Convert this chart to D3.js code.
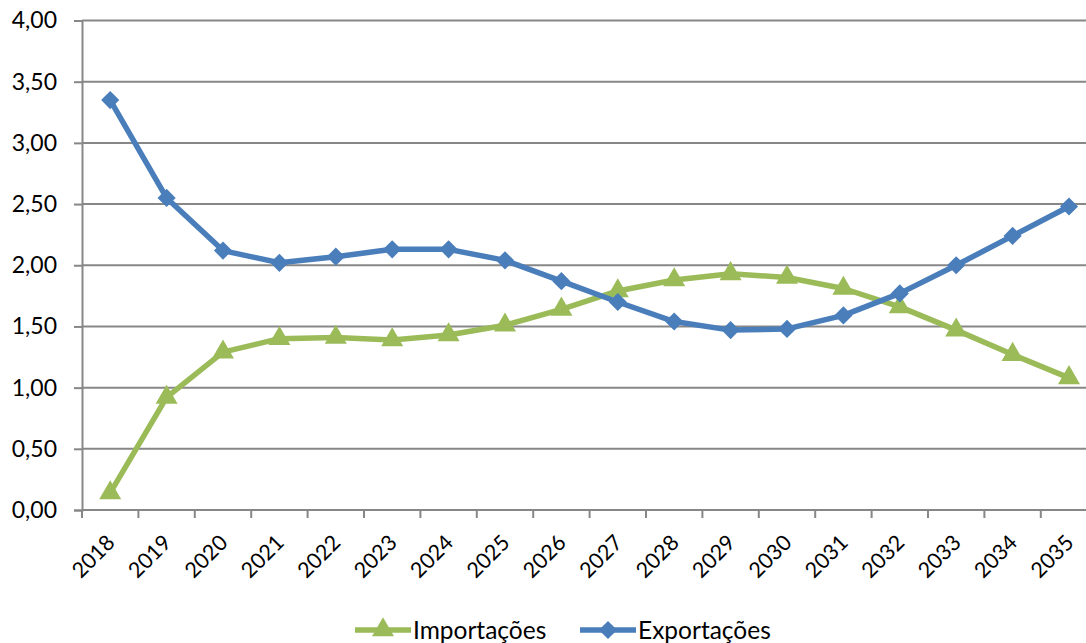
<!DOCTYPE html>
<html>
<head>
<meta charset="utf-8">
<script src="https://cdn.jsdelivr.net/npm/d3@7"></script>
<style>
  html, body { margin: 0; padding: 0; background: #fff; overflow: hidden; }
  svg { display: block; }
  text { font-family: Lato, "Open Sans", sans-serif; fill: #000; }
</style>
</head>
<body>
<svg id="chart" width="1086" height="643"></svg>
<script>
// Years on the category axis
const years = ["2018","2019","2020","2021","2022","2023","2024","2025","2026",
               "2027","2028","2029","2030","2031","2032","2033","2034","2035"];

// Series values
const importacoes = [0.14, 0.92, 1.29, 1.40, 1.41, 1.39, 1.43, 1.51, 1.64,
                     1.79, 1.88, 1.93, 1.90, 1.81, 1.66, 1.47, 1.27, 1.08];
const exportacoes = [3.35, 2.55, 2.12, 2.02, 2.07, 2.13, 2.13, 2.04, 1.87,
                     1.70, 1.54, 1.47, 1.48, 1.59, 1.77, 2.00, 2.24, 2.48];

// Value-axis ticks
const yTicks = [0, 0.5, 1, 1.5, 2, 2.5, 3, 3.5, 4];

const svg = d3.select("#chart");
const fmt = v => d3.format(".2f")(v).replace(".", ",");

const plotLeft = 82, plotTop = 20.5, plotBottom = 510;
const bandW = 56.4;
const x = d3.scaleBand().domain(years).range([plotLeft, plotLeft + bandW * years.length]);
const y = d3.scaleLinear().domain([0, 4]).range([plotBottom, plotTop]);
const cx = d => x(d) + x.bandwidth() / 2;

const gridColor = "#878787";

// Horizontal gridlines
svg.append("g").selectAll("line").data(yTicks.filter(t => t > 0)).join("line")
  .attr("x1", plotLeft).attr("x2", 1086)
  .attr("y1", d => y(d)).attr("y2", d => y(d))
  .attr("stroke", gridColor).attr("stroke-width", 2);

// Y axis
const yAxis = svg.append("g").attr("transform", `translate(${plotLeft},0)`)
  .call(d3.axisLeft(y).tickValues(yTicks).tickFormat(fmt).tickSize(8).tickPadding(17));
yAxis.select(".domain").attr("stroke", gridColor).attr("stroke-width", 2);
yAxis.selectAll(".tick line").attr("stroke", gridColor).attr("stroke-width", 2);
yAxis.selectAll(".tick text").style("font-size", "23px").style("font-family", "Lato, sans-serif").attr("fill", "#000");

// X axis
const xAxis = svg.append("g").attr("transform", `translate(0,${plotBottom})`)
  .call(d3.axisBottom(x).tickSize(0).tickFormat(""));
xAxis.select(".domain").attr("stroke", gridColor).attr("stroke-width", 2).attr("d", `M${plotLeft},0H1086`);
// category boundary ticks
svg.append("g").selectAll("line").data(years).join("line")
  .attr("x1", d => x(d)).attr("x2", d => x(d))
  .attr("y1", plotBottom).attr("y2", plotBottom + 8)
  .attr("stroke", gridColor).attr("stroke-width", 2);

// Rotated year labels
svg.append("g").selectAll("text").data(years).join("text")
  .attr("transform", d => `translate(${cx(d) + 6},${plotBottom + 34}) rotate(-45)`)
  .attr("text-anchor", "end")
  .style("font-size", "21.5px")
  .text(d => d);

const line = d3.line().x((d, i) => cx(years[i])).y(d => y(d));

const green = "#9BBB59", blue = "#4A7EBB";
const tri = d3.symbol().type(d3.symbolTriangle).size(210);
const dia = d3.symbol().type(d3.symbolSquare).size(165);

function drawSeries(vals, color, kind) {
  svg.append("path").datum(vals)
    .attr("d", line).attr("fill", "none")
    .attr("stroke", color).attr("stroke-width", 5.5).attr("stroke-linejoin", "round");
  svg.append("g").selectAll("path").data(vals).join("path")
    .attr("transform", (d, i) => kind === "tri"
      ? `translate(${cx(years[i])},${y(d)})`
      : `translate(${cx(years[i])},${y(d)}) rotate(45)`)
    .attr("d", kind === "tri" ? tri : dia)
    .attr("fill", color);
}
drawSeries(importacoes, green, "tri");
drawSeries(exportacoes, blue, "dia");

// Legend
const legend = [
  { name: "Importações", color: green, kind: "tri", x0: 355 },
  { name: "Exportações", color: blue, kind: "dia", x0: 580 }
];
const ly = 630;
const lg = svg.append("g").selectAll("g").data(legend).join("g");
lg.append("line")
  .attr("x1", d => d.x0).attr("x2", d => d.x0 + 56)
  .attr("y1", ly).attr("y2", ly)
  .attr("stroke", d => d.color).attr("stroke-width", 5.5);
lg.append("path")
  .attr("transform", d => d.kind === "tri"
    ? `translate(${d.x0 + 28},${ly})` : `translate(${d.x0 + 28},${ly}) rotate(45)`)
  .attr("d", d => d.kind === "tri" ? tri() : dia())
  .attr("fill", d => d.color);
lg.append("text")
  .attr("x", d => d.x0 + 58).attr("y", ly + 9)
  .style("font-size", "24.5px")
  .text(d => d.name);
</script>
</body>
</html>
